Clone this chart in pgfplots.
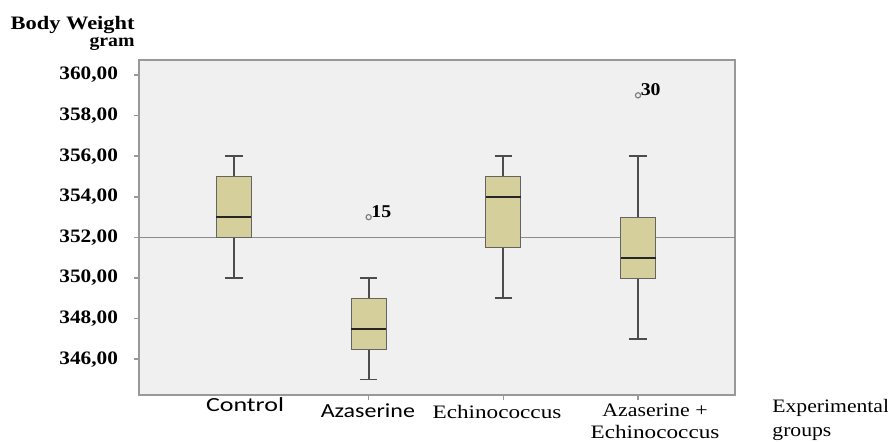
\documentclass[border=0pt]{standalone}
\usepackage{fontspec}
\setmainfont{Liberation Serif}
\newfontfamily\carlito{Carlito}
\usepackage{graphicx}
\usepackage{pgfplots}
\pgfplotsset{compat=1.18}
\definecolor{bg}{RGB}{240,240,240}
\definecolor{boxfill}{RGB}{213,208,155}
\definecolor{boxdraw}{RGB}{100,100,100}
\newcommand{\sx}[2]{\scalebox{#1}[1]{#2}}
\begin{document}
\begin{tikzpicture}
\begin{axis}[
  scale only axis, width=298pt, height=167.5pt,
  xmin=0.295, xmax=4.72, ymin=344.24, ymax=360.74,
  axis background/.style={fill=bg},
  axis line style={draw=gray!80, line width=0.8pt},
  xtick={2,3,4}, xticklabels={},
  ytick={346,348,...,360},
  tick pos=left,
  tick align=outside, major tick length=2.5pt,
  tick style={draw=gray!80, line width=0.8pt},
  yticklabel={\sx{1.12}{\pgfmathprintnumber{\tick}}},
  yticklabel style={font=\bfseries\fontsize{9.5}{10}\selectfont, xshift=-4.5pt,
    /pgf/number format/.cd, fixed, fixed zerofill, precision=2, use comma, assume math mode=true},
  clip=false, unbounded coords=jump,
  whisk/.style={draw=black!70, line width=0.9pt},
  box/.style={draw=boxdraw, fill=boxfill, line width=0.5pt},
  med/.style={draw=black!85, line width=1pt},
]
\coordinate (bl) at (rel axis cs:0,0);
\addplot[gray!90, line width=0.6pt] coordinates {(0.295,352) (4.72,352)};
% whiskers and caps
\addplot[whisk] coordinates {
 (1,350) (1,352) (nan,nan) (1,355) (1,356) (nan,nan) (0.935,350) (1.065,350) (nan,nan) (0.935,356) (1.065,356) (nan,nan)
 (2,345) (2,346.5) (nan,nan) (2,349) (2,350) (nan,nan) (1.935,345) (2.065,345) (nan,nan) (1.935,350) (2.065,350) (nan,nan)
 (3,349) (3,351.5) (nan,nan) (3,355) (3,356) (nan,nan) (2.935,349) (3.065,349) (nan,nan) (2.935,356) (3.065,356) (nan,nan)
 (4,347) (4,350) (nan,nan) (4,353) (4,356) (nan,nan) (3.935,347) (4.065,347) (nan,nan) (3.935,356) (4.065,356)
};
% boxes
\addplot[box] coordinates {(0.87,352) (1.13,352) (1.13,355) (0.87,355)} -- cycle;
\addplot[box] coordinates {(1.87,346.5) (2.13,346.5) (2.13,349) (1.87,349)} -- cycle;
\addplot[box] coordinates {(2.87,351.5) (3.13,351.5) (3.13,355) (2.87,355)} -- cycle;
\addplot[box] coordinates {(3.87,350) (4.13,350) (4.13,353) (3.87,353)} -- cycle;
% medians
\addplot[med] coordinates {(0.87,353) (1.13,353) (nan,nan) (1.87,347.5) (2.13,347.5) (nan,nan) (2.87,354) (3.13,354) (nan,nan) (3.87,351) (4.13,351)};
% outliers
\addplot[only marks, mark=o, mark size=1.3pt, draw=gray, mark options={line width=0.6pt}] coordinates {(2,353) (4,359)};
\node[anchor=south west, inner sep=0pt, font=\bfseries\fontsize{9}{10}\selectfont, xshift=1.2pt] at (axis cs:2,352.95) {\sx{1.1}{15}};
\node[anchor=south west, inner sep=0pt, font=\bfseries\fontsize{9}{10}\selectfont, xshift=1.2pt] at (axis cs:4,358.95) {\sx{1.1}{30}};
% titles
\node[anchor=base east, inner sep=0pt, font=\bfseries\fontsize{9.5}{10}\selectfont] at (rel axis cs:-0.0067,1.0896) {\sx{1.18}{Body Weight}};
\node[anchor=base east, inner sep=0pt, font=\bfseries\fontsize{9}{10}\selectfont] at (rel axis cs:-0.0067,1.0418) {\sx{1.1}{gram}};
% x labels
\node[anchor=base, inner sep=0pt, font=\carlito\fontsize{10}{11}\selectfont] at (rel axis cs:0.1779,-0.0478) {\sx{1.3}{Control}};
\node[anchor=base, inner sep=0pt, font=\carlito\fontsize{10}{11}\selectfont] at (rel axis cs:0.384,-0.0657) {\sx{1.2}{Azaserine}};
\node[anchor=base, inner sep=0pt, font=\fontsize{9.5}{10}\selectfont] at (rel axis cs:0.6007,-0.0687) {\sx{1.22}{Echinococcus}};
\node[anchor=base, inner sep=0pt, font=\fontsize{9.5}{10}\selectfont] at (rel axis cs:0.8658,-0.0627) {\sx{1.15}{Azaserine +}};
\node[anchor=base, inner sep=0pt, font=\fontsize{9.5}{10}\selectfont] at (rel axis cs:0.8658,-0.1284) {\sx{1.22}{Echinococcus}};
\node[anchor=base west, inner sep=0pt, font=\fontsize{9.5}{10}\selectfont] at (rel axis cs:1.0621,-0.0537) {\sx{1.14}{Experimental}};
\node[anchor=base west, inner sep=0pt, font=\fontsize{9.5}{10}\selectfont] at (rel axis cs:1.0621,-0.1224) {\sx{1.14}{groups}};
\end{axis}
\pgfresetboundingbox
\path[use as bounding box] ([shift={(-69.5pt,-23pt)}]bl) rectangle ++(444pt,220.5pt);
\end{tikzpicture}
\end{document}
